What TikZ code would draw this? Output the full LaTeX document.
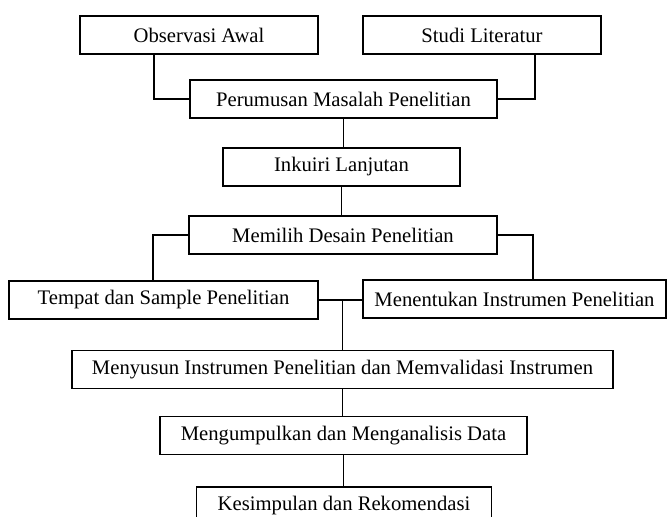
\documentclass[tikz,border=0pt]{standalone}
\usepackage{fontspec}
\setmainfont{Liberation Serif}
\begin{document}
\begin{tikzpicture}[x=0.6pt, y=-0.6pt,
        kotak/.style={draw, line width=0.9pt, minimum height=22.8pt, inner sep=0pt, font=\fontsize{12.4}{15}\selectfont},
        garis/.style={line width=0.7pt}]
        \useasboundingbox (0,0) rectangle (667,517);

        \node[kotak, minimum width=142.8pt] (obs) at (199,35) {Observasi Awal};
        \node[kotak, minimum width=142.8pt] (studi) at (482,35) {Studi Literatur};
        \node[kotak, minimum width=184.2pt] (rumus) at (343.5,99) {Perumusan Masalah Penelitian};
        \node[kotak, minimum width=142.2pt] (inkuiri) at (341.5,167) {Inkuiri Lanjutan};
        \node[kotak, minimum width=184.8pt] (desain) at (343,235) {Memilih Desain Penelitian};
        \node[kotak, minimum width=185.4pt] (tempat) at (163.5,300) {Tempat dan Sample Penelitian};
        \node[kotak, minimum width=181.8pt] (instrumen) at (514.5,299) {Menentukan Instrumen Penelitian};
        \node[kotak, minimum width=324.6pt] (menyusun) at (342.5,369.5) {Menyusun Instrumen Penelitian dan Memvalidasi Instrumen};
        \node[kotak, minimum width=220.2pt] (kumpul) at (343.5,435.5) {Mengumpulkan dan Menganalisis Data};
        \node[kotak, minimum width=177pt] (simpulan) at (344,506) {Kesimpulan dan Rekomendasi};

        \draw[garis] (rumus.west) -| ([xshift=-27pt]obs.south);
        \draw[garis] (rumus.east) -| ([xshift=31.8pt]studi.south);
        \draw[garis] (rumus.south) -- (rumus.south |- inkuiri.north);
        \draw[garis] (inkuiri.south) -- (inkuiri.south |- desain.north);
        \draw[garis] (desain.west) -| ([xshift=-6.3pt]tempat.north);
        \draw[garis] (desain.east) -| ([xshift=11.1pt]instrumen.north);
        \draw[garis] (tempat.east) -- (tempat.east -| instrumen.west);
        \draw[garis] (menyusun.north) -- (menyusun.north |- tempat.east);
        \draw[garis] (menyusun.south) -- (menyusun.south |- kumpul.north);
        \draw[garis] (kumpul.south) -- (kumpul.south |- simpulan.north);
    \end{tikzpicture}
\end{document}
